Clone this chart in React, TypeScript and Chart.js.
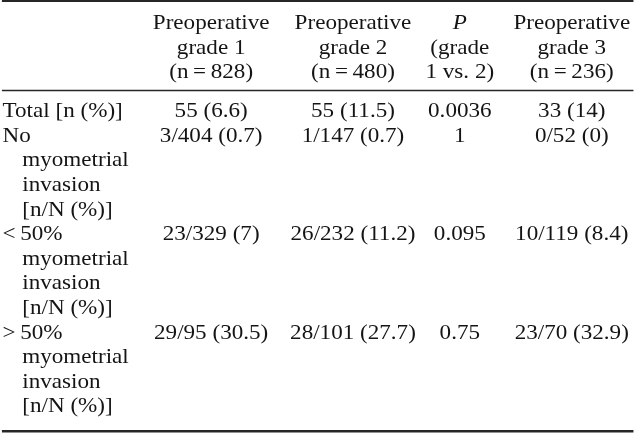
import React, { useEffect, useRef } from "react";
import { Chart, registerables } from "chart.js";

Chart.register(...registerables);

// ---- table content ----
const HEADER_COLS: string[][] = [
  ["Preoperative", "grade 1", "(n\u2009=\u2009828)"],
  ["Preoperative", "grade 2", "(n\u2009=\u2009480)"],
  ["P", "(grade", "1 vs. 2)"],
  ["Preoperative", "grade 3", "(n\u2009=\u2009236)"],
];
const ROW_LABELS: string[][] = [
  ["Total [n (%)]"],
  ["No", "myometrial", "invasion", "[n/N (%)]"],
  ["<\u200950%", "myometrial", "invasion", "[n/N (%)]"],
  [">\u200950%", "myometrial", "invasion", "[n/N (%)]"],
];
const GRADE1: string[] = ["55 (6.6)", "3/404 (0.7)", "23/329 (7)", "29/95 (30.5)"];
const GRADE2: string[] = ["55 (11.5)", "1/147 (0.7)", "26/232 (11.2)", "28/101 (27.7)"];
const PVALUE: string[] = ["0.0036", "1", "0.095", "0.75"];
const GRADE3: string[] = ["33 (14)", "0/52 (0)", "10/119 (8.4)", "23/70 (32.9)"];

// ---- layout (x in % of width, y in line units) ----
const LABEL_X = 0.4;
const INDENT_X = 3.5;
const COL_X = [33.2, 55.5, 72.3, 89.9];
const HEADER_Y0 = 1.19;
const BODY_Y0 = 4.76;
const RULES = [
  { y: 0.04, w: 2.2 },
  { y: 3.68, w: 1.5 },
  { y: 17.53, w: 2.4 },
];
const Y_MAX = 17.64;
const STRETCH = 1.05;
const FONT = '22px "Liberation Serif", "Times New Roman", serif';
const FONT_IT = 'italic 22px "Liberation Serif", "Times New Roman", serif';

type Cell = { x: number; y: number; text: string; align: CanvasTextAlign; italic?: boolean };

function buildCells(): Cell[] {
  const cells: Cell[] = [];
  HEADER_COLS.forEach((lines, c) => {
    lines.forEach((t, i) => {
      cells.push({ x: COL_X[c], y: HEADER_Y0 + i, text: t, align: "center", italic: c === 2 && i === 0 });
    });
  });
  const cols = [GRADE1, GRADE2, PVALUE, GRADE3];
  let line = BODY_Y0;
  ROW_LABELS.forEach((lines, r) => {
    lines.forEach((t, i) => {
      cells.push({ x: i === 0 ? LABEL_X : INDENT_X, y: line + i, text: t, align: "left" });
    });
    cols.forEach((col, c) => {
      cells.push({ x: COL_X[c], y: line, text: col[r], align: "center" });
    });
    line += lines.length;
  });
  return cells;
}

const tablePlugin = {
  id: "tableText",
  afterDatasetsDraw(chart: any) {
    const ctx = chart.ctx as CanvasRenderingContext2D;
    const xs = chart.scales.x;
    const ys = chart.scales.y;
    ctx.save();
    ctx.strokeStyle = "#262626";
    RULES.forEach((r) => {
      const py = ys.getPixelForValue(r.y);
      ctx.lineWidth = r.w;
      ctx.beginPath();
      ctx.moveTo(xs.getPixelForValue(0.3), py);
      ctx.lineTo(xs.getPixelForValue(99.6), py);
      ctx.stroke();
    });
    ctx.fillStyle = "#141414";
    ctx.textBaseline = "alphabetic";
    const meta = chart.getDatasetMeta(0);
    const data = chart.data.datasets[0].data as Cell[];
    meta.data.forEach((el: any, i: number) => {
      const d = data[i];
      ctx.save();
      ctx.font = d.italic ? FONT_IT : FONT;
      ctx.textAlign = d.align;
      ctx.translate(el.x, el.y);
      ctx.scale(STRETCH, 1);
      ctx.fillText(d.text, 0, 0);
      ctx.restore();
    });
    ctx.restore();
  },
};

export default function App() {
  const ref = useRef<HTMLCanvasElement | null>(null);
  useEffect(() => {
    document.body.style.margin = "0";
    const canvas = ref.current!;
    const chart = new Chart(canvas, {
      type: "scatter",
      data: {
        datasets: [
          {
            data: buildCells() as any,
            pointRadius: 0,
            pointHoverRadius: 0,
          },
        ],
      },
      options: {
        responsive: false,
        animation: false,
        events: [],
        layout: { padding: 0 },
        plugins: { legend: { display: false }, tooltip: { enabled: false } },
        scales: {
          x: { type: "linear", min: 0, max: 100, display: false },
          y: { type: "linear", min: 0, max: Y_MAX, reverse: true, display: false },
        },
      },
      plugins: [tablePlugin],
    });
    return () => chart.destroy();
  }, []);
  return (
    <div style={{ width: 636, height: 434, background: "#fff" }}>
      <canvas ref={ref} width={636} height={434} />
    </div>
  );
}
